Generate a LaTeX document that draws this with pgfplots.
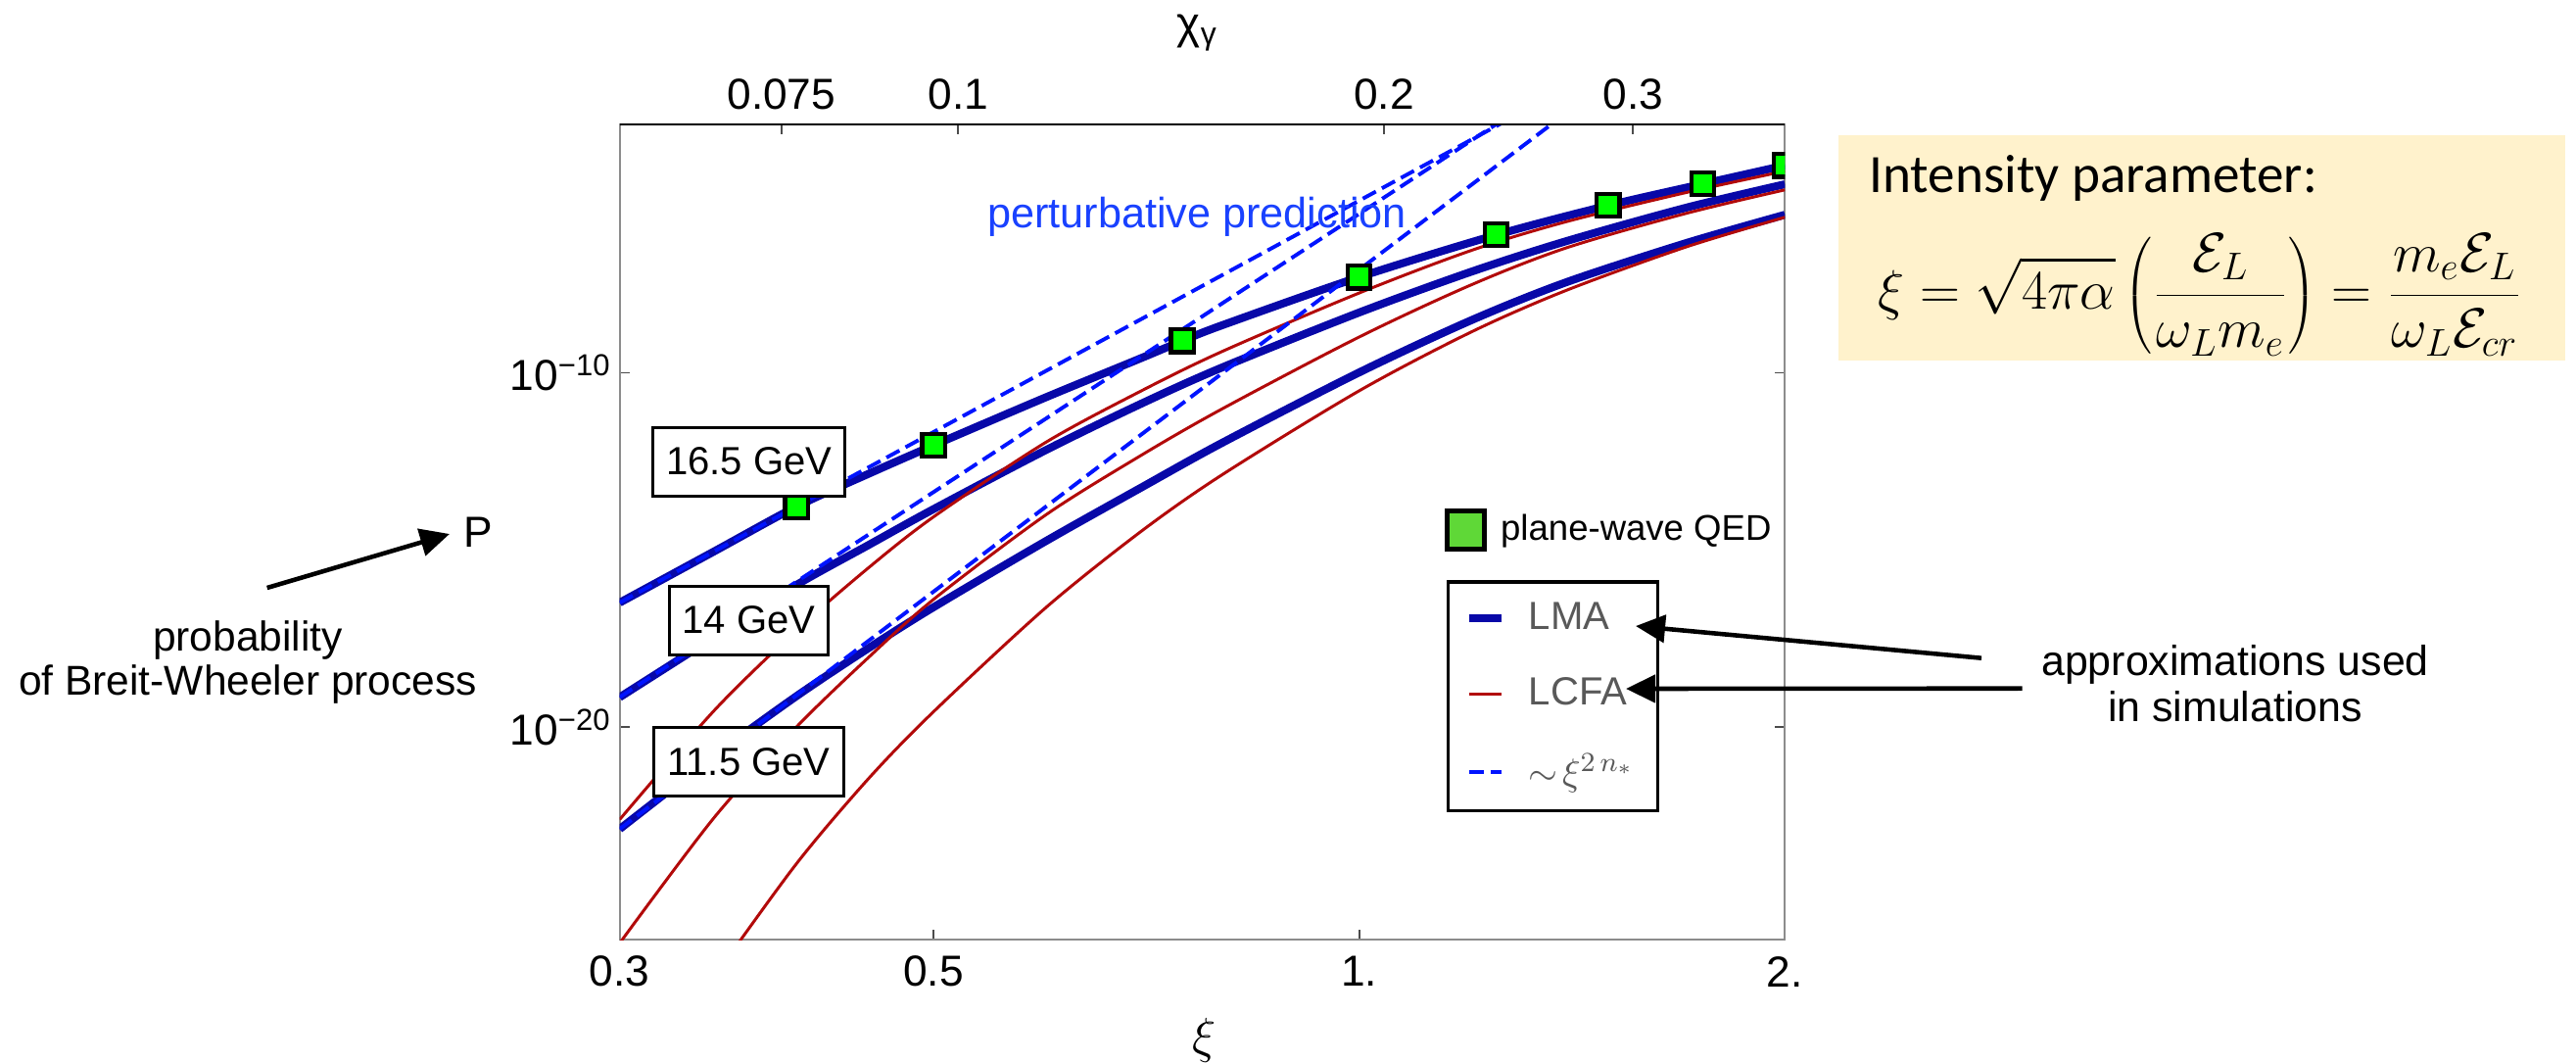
\documentclass[border=0pt]{standalone}
\usepackage[no-math]{fontspec}
\setmainfont{Liberation Sans}
\newfontfamily\calibri{Carlito}
\usepackage{graphicx}
\usepackage{pgfplots}
\pgfplotsset{compat=1.18}
\usetikzlibrary{arrows.meta}

\definecolor{lmablue}{RGB}{8,8,168}
\definecolor{lcfared}{RGB}{178,10,10}
\definecolor{pertblue}{RGB}{0,20,255}
\definecolor{predblue}{RGB}{25,65,255}
\definecolor{qedgreen}{RGB}{0,255,0}
\definecolor{legendgreen}{RGB}{95,216,55}
\definecolor{peach}{RGB}{255,242,204}
\definecolor{framegray}{RGB}{140,140,140}

\tikzset{
  lma/.style={line width=2.3pt, color=lmablue},
  lcfa/.style={line width=0.85pt, color=lcfared},
  pert/.style={line width=1.1pt, color=pertblue, dash pattern=on 4.3pt off 2pt},
  ebox/.style={draw, line width=0.85pt, fill=white, inner xsep=0.135cm, minimum height=0.70cm, font=\fontsize{11.4}{13}\selectfont},
  bigarrow/.style={line width=1.3pt, -{Triangle[length=0.3cm,width=0.28cm]}},
}
\newcommand{\ticksize}{\fontsize{12.6}{14}\selectfont}

\begin{document}
\begin{tikzpicture}
\path[use as bounding box] (0,0) rectangle (26.30,10.84);

% main axis: probability against xi
\begin{axis}[
  at={(6.327cm,1.25cm)}, anchor=south west,
  scale only axis, width=11.896cm, height=8.317cm,
  xmode=log, ymode=log,
  xmin=0.3, xmax=2, ymin=1e-26, ymax=1e-3,
  axis line style={framegray, line width=0.6pt},
  xtick={0.3,0.5,1,2}, xticklabels={0.3,0.5,1.,2.},
  ytick={1e-20,1e-10}, yticklabels={10\textsuperscript{−20},10\textsuperscript{−10}},
  xtick pos=bottom, ytick pos=both, yticklabel pos=left,
  tick align=inside, major tick length=0.1cm,
  xminorticks=false, yminorticks=false,
  tick style={black!70, line width=0.5pt},
  x tick label style={font=\ticksize, anchor=center, yshift=-0.327cm},
  y tick label style={font=\ticksize, anchor=east, inner xsep=0.077cm},
  xlabel={$\xi$},
  xlabel style={at={(axis description cs:0.5017,0)}, anchor=center, yshift=-1.03cm, font=\fontsize{14}{16}\selectfont},
  clip marker paths=true,
  legend style={at={(axis description cs:0.7097,0.4413)}, anchor=north west,
    draw=black, line width=1pt, fill=white, text=black!65,
    font=\fontsize{11.4}{13}\selectfont,
    inner xsep=0.17cm, inner ysep=0.14cm, row sep=0.30cm},
  legend cell align=left,
  legend image code/.code={\draw[#1] (0cm,0cm) -- (0.33cm,0cm); \path (0.5cm,0cm);},
]
\addlegendimage{lma}
\addlegendentry{LMA}
\addlegendimage{lcfa}
\addlegendentry{LCFA}
\addlegendimage{pert}
\addlegendentry{$\sim\!\xi^{2\,n_*}$}

% LMA, 16.5 / 14 / 11.5 GeV
\addplot[lma, smooth, forget plot] coordinates {
  (0.3,3.24e-17) (0.35,9.12e-16) (0.4,1.66e-14) (0.45,1.41e-13) (0.5,8.91e-13)
  (0.6,2.00e-11) (0.7,2.51e-10) (0.75,7.94e-10) (0.8,2.19e-9) (1.0,5.01e-8)
  (1.25,7.76e-7) (1.5,5.25e-6) (1.75,2.14e-5) (2.0,7.08e-5)};
\addplot[lma, smooth, forget plot] coordinates {
  (0.3,6.92e-20) (0.35,3.47e-18) (0.4,1.02e-16) (0.45,1.38e-15) (0.5,1.41e-14)
  (0.6,6.46e-13) (0.7,1.29e-11) (0.8,1.41e-10) (1.0,5.01e-9) (1.2,7.08e-8)
  (1.4,5.13e-7) (1.7,4.47e-6) (2.0,2.09e-5)};
\addplot[lma, smooth, forget plot] coordinates {
  (0.3,1.32e-23) (0.35,1.55e-21) (0.4,7.41e-20) (0.45,1.70e-18) (0.5,2.40e-17)
  (0.6,1.74e-15) (0.7,5.50e-14) (0.8,1.05e-12) (1.0,1.02e-10) (1.2,3.02e-9)
  (1.4,3.55e-8) (1.7,4.47e-7) (2.0,2.88e-6)};

% LCFA, 16.5 / 14 / 11.5 GeV
\addplot[lcfa, smooth, forget plot] coordinates {
  (0.3,2.45e-23) (0.35,2.95e-20) (0.4,5.37e-18) (0.45,3.16e-16) (0.5,8.51e-15)
  (0.6,1.07e-12) (0.7,2.95e-11) (0.8,3.98e-10) (1.0,1.78e-8) (1.2,2.82e-7)
  (1.4,1.82e-6) (1.7,1.20e-5) (2.0,4.90e-5)};
\addplot[lcfa, smooth, forget plot] coordinates {
  (0.3,7.94e-27) (0.35,2.82e-23) (0.4,1.00e-20) (0.45,9.33e-19) (0.5,3.98e-17)
  (0.6,9.55e-15) (0.7,4.47e-13) (0.8,9.55e-12) (1.0,1.02e-9) (1.2,3.02e-8)
  (1.4,3.31e-7) (1.7,3.09e-6) (2.0,1.45e-5)};
\addplot[lcfa, smooth, forget plot] coordinates {
  (0.35,8.91e-28) (0.4,1.38e-24) (0.45,3.55e-22) (0.5,2.69e-20) (0.6,2.29e-17)
  (0.7,3.16e-15) (0.8,1.32e-13) (1.0,3.09e-11) (1.2,1.41e-9) (1.4,2.09e-8)
  (1.7,3.47e-7) (2.0,2.45e-6)};

% perturbative power laws
\addplot[pert, forget plot] coordinates {(0.3,3.24e-17) (1.3,2.14e-3)};
\addplot[pert, forget plot] coordinates {(0.3,6.92e-20) (1.3,2.88e-3)};
\addplot[pert, forget plot] coordinates {(0.3,1.32e-23) (1.4,2.09e-3)};

% plane-wave QED, 16.5 GeV
\addplot[only marks, mark=square*, mark size=3.3pt,
  mark options={fill=qedgreen, draw=black, line width=1.2pt, solid}, forget plot] coordinates {
  (0.4,1.66e-14) (0.5,8.91e-13) (0.75,7.94e-10) (1.0,5.01e-8)
  (1.25,7.76e-7) (1.5,5.25e-6) (1.75,2.14e-5) (2.0,7.08e-5)};
\end{axis}

% top axis: chi_gamma
\begin{axis}[
  at={(6.327cm,1.25cm)}, anchor=south west,
  scale only axis, width=11.896cm, height=8.317cm,
  xmode=log, xmin=0.05763, xmax=0.3842, ymin=0, ymax=1,
  axis x line*=top, axis y line=none,
  axis line style={black, line width=0.6pt},
  xtick={0.075,0.1,0.2,0.3}, xticklabels={0.075,0.1,0.2,0.3},
  tick align=inside, major tick length=0.1cm, xminorticks=false,
  tick style={black!70, line width=0.5pt},
  x tick label style={font=\ticksize, anchor=center, yshift=0.306cm},
  xlabel={χ\textsubscript{γ}},
  xlabel style={at={(axis description cs:0.496,1)}, anchor=center, yshift=0.94cm, font=\fontsize{13}{15}\selectfont},
  legend style={at={(axis description cs:0.7064,0.5026)}, anchor=west,
    draw=none, fill=none, inner sep=0pt, font=\fontsize{10.4}{12}\selectfont},
  legend image code/.code={\draw[#1] plot coordinates {(0.22cm,0cm)}; \path (0cm,0cm) (0.5cm,0cm);},
]
\addlegendimage{only marks, mark=square*, mark size=5.5pt, mark options={fill=legendgreen, draw=black, line width=1.4pt}}
\addlegendentry{plane-wave QED}
\end{axis}

% energy labels
\node[ebox] at (7.647,6.13) {16.5 GeV};
\node[ebox] at (7.645,4.51) {14 GeV};
\node[ebox] at (7.645,3.065) {11.5 GeV};
\node[text=predblue, font=\fontsize{12.3}{14}\selectfont] at (12.22,8.623) {perturbative prediction};

% left annotation
\node[font=\fontsize{12.6}{14}\selectfont] at (4.878,5.407) {P};
\draw[bigarrow] (2.727,4.84) -- (4.59,5.39);
\node[align=center, font=\fontsize{12.1}{12.8}\selectfont] at (2.53,4.08) {probability\\of Breit-Wheeler process};

% right annotation
\node[align=center, font=\fontsize{12.2}{13.3}\selectfont] at (22.82,3.86) {approximations used\\in simulations};
\draw[bigarrow] (20.23,4.123) -- (16.70,4.45);
\draw[bigarrow] (20.645,3.813) -- (16.60,3.81);

% intensity parameter box
\fill[peach] (18.77,7.16) rectangle (26.19,9.46);
\node[anchor=west, font=\calibri\fontsize{15.7}{18}\selectfont] at (18.96,9.023) {Intensity parameter:};
\node[inner sep=0pt] at (22.46,7.83) {\scalebox{0.935}{\fontsize{17.28}{20}\selectfont
  $\displaystyle \xi=\sqrt{4\pi\alpha}\left(\frac{\mathcal{E}_L}{\omega_L m_e}\right)=\frac{m_e\mathcal{E}_L}{\omega_L\mathcal{E}_{cr}}$}};
\end{tikzpicture}
\end{document}
